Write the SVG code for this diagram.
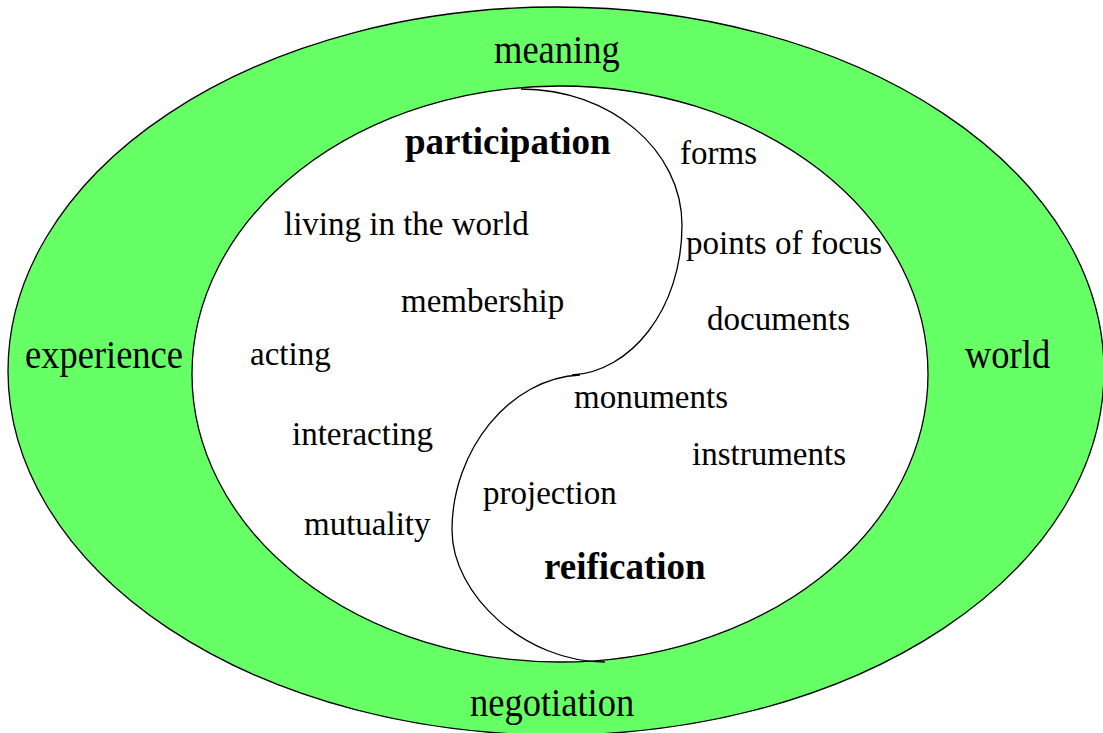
<svg xmlns="http://www.w3.org/2000/svg" width="1103" height="733" viewBox="0 0 1103 733">
<style>
.ring{fill:#66FF66;stroke:#000;stroke-width:1.3}
.inner{fill:#fff;stroke:#000;stroke-width:1.3}
.curve{fill:none;stroke:#000;stroke-width:1.3}
text{font-family:"Liberation Serif","Times New Roman",serif;fill:#000}
.outer{font-size:36.5px}
.item{font-size:33px}
.title{font-size:37px;font-weight:bold}
</style>
<rect width="1103" height="733" fill="#fff"/>
<g id="ring">
<ellipse class="ring" cx="556" cy="371" rx="548" ry="364"/>
<ellipse class="inner" cx="560" cy="374" rx="368" ry="288"/>
</g>
<g id="connectors">
<path class="curve" d="M521,89 C610,89 682,150 682,225 C682,310 630,372 572,375"/>
<path class="curve" d="M580,375 C510,378 452,450 452,530 C452,595 525,662 605,662"/>
</g>
<g id="meaning"><text class="outer" transform="translate(494,63) scale(1,1.1)">meaning</text></g>
<g id="experience"><text class="outer" transform="translate(25,368) scale(1,1.1)">experience</text></g>
<g id="world"><text class="outer" transform="translate(965,368) scale(1,1.1)">world</text></g>
<g id="negotiation"><text class="outer" transform="translate(470,716) scale(1,1.1)">negotiation</text></g>
<g id="participation"><text class="title" x="405" y="154">participation</text></g>
<g id="reification"><text class="title" x="544" y="579">reification</text></g>
<g id="forms"><text class="item" x="680" y="164">forms</text></g>
<g id="living"><text class="item" x="284" y="235">living in the world</text></g>
<g id="points"><text class="item" x="686" y="254">points of focus</text></g>
<g id="membership"><text class="item" x="401" y="312">membership</text></g>
<g id="documents"><text class="item" x="707" y="330">documents</text></g>
<g id="acting"><text class="item" x="250" y="365">acting</text></g>
<g id="monuments"><text class="item" x="574" y="408">monuments</text></g>
<g id="interacting"><text class="item" x="292" y="445">interacting</text></g>
<g id="instruments"><text class="item" x="692" y="465">instruments</text></g>
<g id="projection"><text class="item" x="483" y="504">projection</text></g>
<g id="mutuality"><text class="item" x="304" y="535">mutuality</text></g>
</svg>
